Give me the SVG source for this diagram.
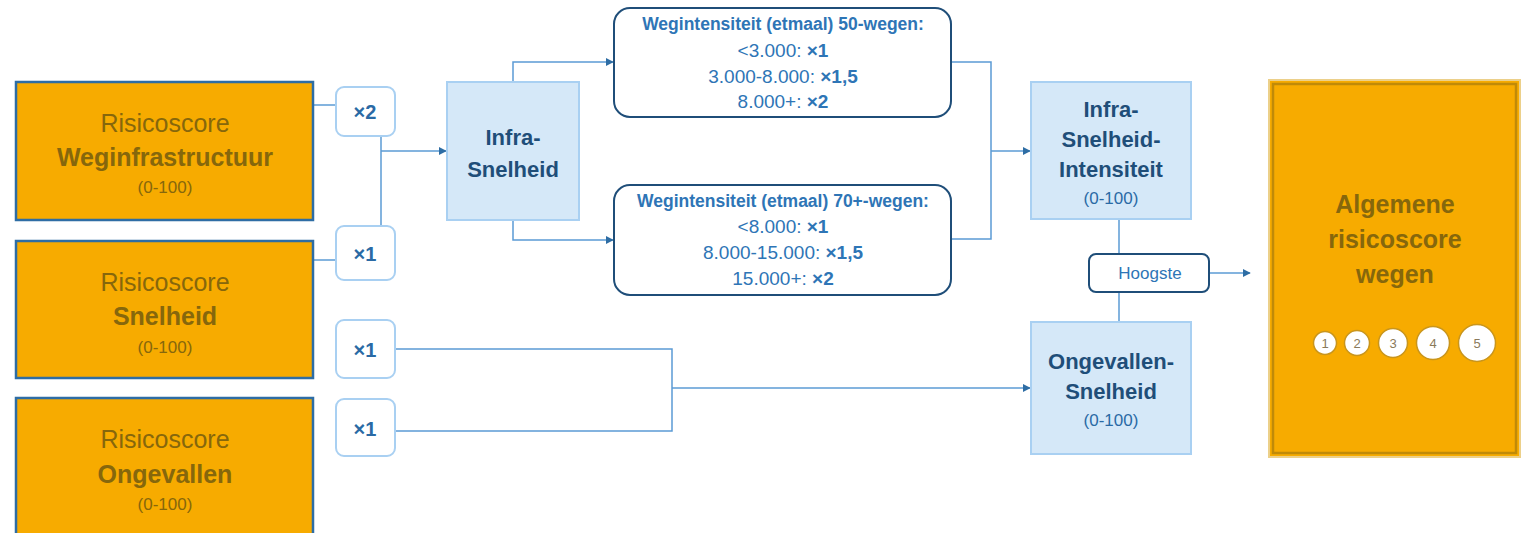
<svg xmlns="http://www.w3.org/2000/svg" width="1532" height="533" viewBox="0 0 1532 533">
<defs>
<marker id="arr" viewBox="0 0 10 10" refX="9" refY="5" markerWidth="8" markerHeight="8" markerUnits="userSpaceOnUse" orient="auto">
<path d="M0,0 L10,5 L0,10 z" fill="#2e6da4"/>
</marker>
<style>
text{font-family:"Liberation Sans",Arial,sans-serif;text-anchor:middle}
.src{fill:#f7ab00;stroke:#2e6da4;stroke-width:2.5}
.st{fill:#86670c}
.b{font-weight:bold}
.mul{fill:#fff;stroke:#a9d0f2;stroke-width:2}
.mt{fill:#2a6aa5;font-weight:bold;font-size:20px}
.calc{fill:#d5e8f8;stroke:#a9d0f2;stroke-width:2}
.ct{fill:#1f4e79;font-weight:bold;font-size:22px}
.cs{fill:#2a6aa5;font-size:17px}
.rule{fill:#fff;stroke:#1f4e79;stroke-width:2}
.rt{fill:#2e75b6;font-size:19px}
.rh{fill:#2e75b6;font-size:17.5px;font-weight:bold}
.conn{fill:none;stroke:#5b9bd5;stroke-width:1.5}
.circ{fill:#fff;stroke:#c9951c;stroke-width:1.5}
.ct2{fill:#8a7a5a;font-size:13px}
</style>
</defs>

<g id="connectors">
<path class="conn" d="M313,105 H336"/>
<path class="conn" d="M313,260 H336"/>
<path class="conn" d="M381,137 V225"/>
<path class="conn" d="M381,151 H446" marker-end="url(#arr)"/>
<path class="conn" d="M513,82 V62 H613" marker-end="url(#arr)"/>
<path class="conn" d="M513,220 V240 H613" marker-end="url(#arr)"/>
<path class="conn" d="M951,62 H991 V239 H951"/>
<path class="conn" d="M991,151 H1030" marker-end="url(#arr)"/>
<path class="conn" d="M1119,219 V254"/>
<path class="conn" d="M1119,292 V322"/>
<path class="conn" d="M1209,273 H1250" marker-end="url(#arr)"/>
<path class="conn" d="M395,349 H672 V431 H395"/>
<path class="conn" d="M672,388 H1030" marker-end="url(#arr)"/>
</g>

<g id="src-weginfra">
<rect class="src" x="16" y="82" width="297" height="138"/>
<text class="st" x="165" y="132" font-size="25">Risicoscore</text>
<text class="st b" x="165" y="166" font-size="25">Weginfrastructuur</text>
<text class="st" x="165" y="193" font-size="17">(0-100)</text>
</g>
<g id="src-snelheid">
<rect class="src" x="16" y="241" width="297" height="137"/>
<text class="st" x="165" y="291" font-size="25">Risicoscore</text>
<text class="st b" x="165" y="325" font-size="25">Snelheid</text>
<text class="st" x="165" y="353" font-size="17">(0-100)</text>
</g>
<g id="src-ongevallen">
<rect class="src" x="16" y="398" width="297" height="140"/>
<text class="st" x="165" y="448" font-size="25">Risicoscore</text>
<text class="st b" x="165" y="483" font-size="25">Ongevallen</text>
<text class="st" x="165" y="510" font-size="17">(0-100)</text>
</g>

<g id="mul-1">
<rect class="mul" x="336" y="87" width="59" height="49" rx="8"/>
<text class="mt" x="365" y="119">×2</text>
</g>
<g id="mul-2">
<rect class="mul" x="336" y="226" width="59" height="54" rx="8"/>
<text class="mt" x="365" y="261">×1</text>
</g>
<g id="mul-3">
<rect class="mul" x="336" y="320" width="59" height="58" rx="8"/>
<text class="mt" x="365" y="357">×1</text>
</g>
<g id="mul-4">
<rect class="mul" x="336" y="399" width="59" height="57" rx="8"/>
<text class="mt" x="365" y="436">×1</text>
</g>

<g id="infra-snelheid">
<rect class="calc" x="447" y="82" width="132" height="138"/>
<text class="ct" x="513" y="145">Infra-</text>
<text class="ct" x="513" y="177">Snelheid</text>
</g>

<g id="rule-50">
<rect class="rule" x="614" y="8" width="337" height="109" rx="16"/>
<text class="rh" x="783" y="30">Wegintensiteit (etmaal) 50-wegen:</text>
<text class="rt" x="783" y="57">&lt;3.000: <tspan font-weight="bold">×1</tspan></text>
<text class="rt" x="783" y="83">3.000-8.000: <tspan font-weight="bold">×1,5</tspan></text>
<text class="rt" x="783" y="108">8.000+: <tspan font-weight="bold">×2</tspan></text>
</g>

<g id="rule-70">
<rect class="rule" x="614" y="185" width="337" height="110" rx="16"/>
<text class="rh" x="783" y="207">Wegintensiteit (etmaal) 70+-wegen:</text>
<text class="rt" x="783" y="233">&lt;8.000: <tspan font-weight="bold">×1</tspan></text>
<text class="rt" x="783" y="259">8.000-15.000: <tspan font-weight="bold">×1,5</tspan></text>
<text class="rt" x="783" y="285">15.000+: <tspan font-weight="bold">×2</tspan></text>
</g>

<g id="infra-snelheid-intensiteit">
<rect class="calc" x="1031" y="82" width="160" height="137"/>
<text class="ct" x="1111" y="117">Infra-</text>
<text class="ct" x="1111" y="147">Snelheid-</text>
<text class="ct" x="1111" y="177">Intensiteit</text>
<text class="cs" x="1111" y="204">(0-100)</text>
</g>

<g id="hoogste">
<rect class="rule" x="1089" y="254" width="120" height="38" rx="7"/>
<text x="1150" y="279" font-size="17" fill="#2e75b6">Hoogste</text>
</g>

<g id="ongevallen-snelheid">
<rect class="calc" x="1031" y="322" width="160" height="132"/>
<text class="ct" x="1111" y="369">Ongevallen-</text>
<text class="ct" x="1111" y="399">Snelheid</text>
<text class="cs" x="1111" y="426">(0-100)</text>
</g>

<g id="algemene-risicoscore">
<rect x="1269" y="80" width="251" height="377" fill="#f7ab00" stroke="#ecd08a" stroke-width="2"/>
<rect x="1273" y="84" width="243" height="369" fill="none" stroke="#c08a08" stroke-width="2.5"/>
<text class="st b" x="1395" y="213" font-size="25">Algemene</text>
<text class="st b" x="1395" y="248" font-size="25">risicoscore</text>
<text class="st b" x="1395" y="283" font-size="25">wegen</text>
<circle class="circ" cx="1325" cy="343" r="11.5"/>
<circle class="circ" cx="1357" cy="343" r="12.5"/>
<circle class="circ" cx="1393" cy="343" r="14.5"/>
<circle class="circ" cx="1433" cy="343" r="16.5"/>
<circle class="circ" cx="1477" cy="343" r="18.5"/>
<text class="ct2" x="1325" y="347.5">1</text>
<text class="ct2" x="1357" y="347.5">2</text>
<text class="ct2" x="1393" y="347.5">3</text>
<text class="ct2" x="1433" y="347.5">4</text>
<text class="ct2" x="1477" y="347.5">5</text>
</g>
</svg>
